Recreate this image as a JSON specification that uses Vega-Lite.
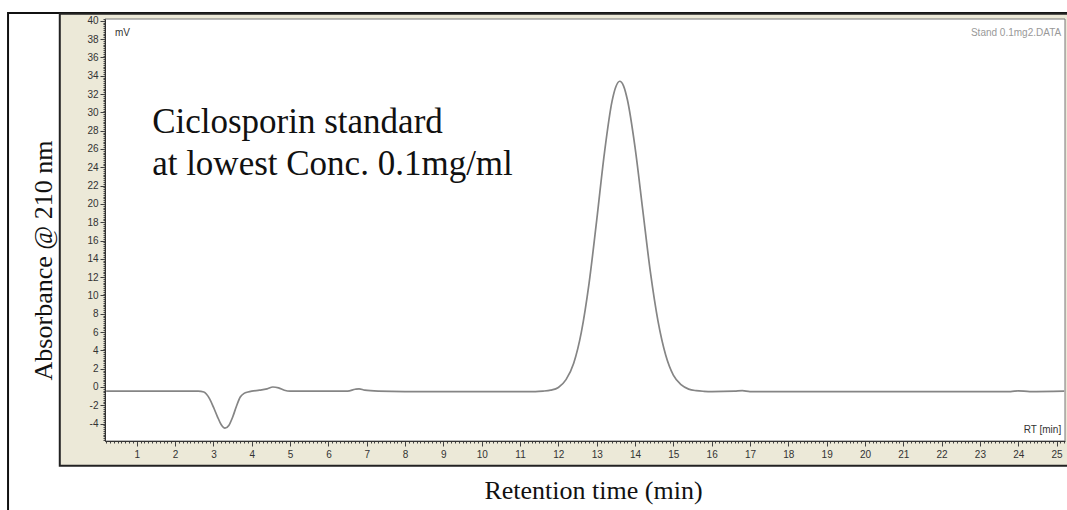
{
  "$schema": "https://vega.github.io/schema/vega-lite/v6.json",
  "width": 960,
  "height": 422,
  "autosize": {"type": "none"},
  "padding": {"left": 105, "top": 19, "right": 2, "bottom": 69},
  "background": "white",
  "config": {"view": {"stroke": null}},
  "layer": [
    {
      "data": {"values": [{}]},
      "mark": {"type": "rect", "fill": null, "stroke": "#111", "strokeWidth": 2, "clip": false},
      "encoding": {
        "x": {"datum": -2.36, "type": "quantitative", "scale": {"domain": [0.17, 25.22], "nice": false, "zero": false}},
        "x2": {"datum": 27},
        "y": {"datum": 40.86, "type": "quantitative", "scale": {"domain": [-5.9, 40.2], "nice": false, "zero": false}},
        "y2": {"datum": -20}
      }
    },
    {
      "data": {"values": [{}]},
      "mark": {"type": "rect", "fill": "#ECE9D8", "stroke": "#222", "strokeWidth": 2, "clip": false},
      "encoding": {
        "x": {"datum": -1.01, "type": "quantitative"},
        "x2": {"datum": 26},
        "y": {"datum": 40.76, "type": "quantitative"},
        "y2": {"datum": -8.6}
      }
    },
    {
      "data": {"values": [{}]},
      "mark": {"type": "rect", "fill": "white", "stroke": "#777", "strokeWidth": 1, "clip": false},
      "encoding": {
        "x": {"datum": 0.17, "type": "quantitative"},
        "x2": {"datum": 25.22},
        "y": {"datum": 40.2, "type": "quantitative"},
        "y2": {"datum": -5.9}
      }
    },
    {
      "data": {"values": [
        {"t": 0.2, "mv": -0.45}, {"t": 1.0, "mv": -0.45}, {"t": 2.0, "mv": -0.45}, {"t": 2.6, "mv": -0.45},
        {"t": 2.75, "mv": -0.55}, {"t": 2.9, "mv": -1.3}, {"t": 3.0, "mv": -2.2}, {"t": 3.1, "mv": -3.2},
        {"t": 3.2, "mv": -4.1}, {"t": 3.3, "mv": -4.5}, {"t": 3.4, "mv": -4.2}, {"t": 3.5, "mv": -3.3},
        {"t": 3.6, "mv": -2.1}, {"t": 3.7, "mv": -1.1}, {"t": 3.8, "mv": -0.7}, {"t": 3.9, "mv": -0.55},
        {"t": 4.0, "mv": -0.45}, {"t": 4.2, "mv": -0.35}, {"t": 4.4, "mv": -0.2}, {"t": 4.55, "mv": 0.0},
        {"t": 4.7, "mv": -0.1}, {"t": 4.85, "mv": -0.35}, {"t": 5.0, "mv": -0.45}, {"t": 6.0, "mv": -0.45},
        {"t": 6.5, "mv": -0.45}, {"t": 6.7, "mv": -0.25}, {"t": 6.8, "mv": -0.2}, {"t": 6.95, "mv": -0.35},
        {"t": 7.3, "mv": -0.45}, {"t": 8.0, "mv": -0.5}, {"t": 10.0, "mv": -0.5}, {"t": 11.4, "mv": -0.5},
        {"t": 11.6, "mv": -0.45}, {"t": 11.8, "mv": -0.34}, {"t": 12.0, "mv": -0.05}, {"t": 12.2, "mv": 0.8},
        {"t": 12.4, "mv": 2.6}, {"t": 12.6, "mv": 6.0}, {"t": 12.8, "mv": 11.3}, {"t": 13.0, "mv": 18.2},
        {"t": 13.2, "mv": 25.5}, {"t": 13.4, "mv": 31.2}, {"t": 13.5, "mv": 32.8}, {"t": 13.6, "mv": 33.4},
        {"t": 13.7, "mv": 32.9}, {"t": 13.8, "mv": 31.4}, {"t": 14.0, "mv": 26.2}, {"t": 14.2, "mv": 19.4},
        {"t": 14.4, "mv": 12.6}, {"t": 14.6, "mv": 7.2}, {"t": 14.8, "mv": 3.5}, {"t": 15.0, "mv": 1.3},
        {"t": 15.2, "mv": 0.25}, {"t": 15.4, "mv": -0.23}, {"t": 15.6, "mv": -0.4}, {"t": 15.8, "mv": -0.47},
        {"t": 16.0, "mv": -0.5}, {"t": 16.6, "mv": -0.45}, {"t": 16.8, "mv": -0.4}, {"t": 17.0, "mv": -0.5},
        {"t": 20.0, "mv": -0.5}, {"t": 23.8, "mv": -0.5}, {"t": 24.0, "mv": -0.42}, {"t": 24.3, "mv": -0.5},
        {"t": 25.2, "mv": -0.45}
      ]},
      "mark": {"type": "line", "color": "#858585", "strokeWidth": 1.7, "interpolate": "monotone"},
      "encoding": {
        "x": {
          "field": "t", "type": "quantitative",
          "axis": {
            "title": "Retention time (min)",
            "tickCount": 250,
            "labelExpr": "abs(datum.value - round(datum.value)) < 0.001 ? '' + round(datum.value) : ''",
            "tickSize": {"condition": {"test": "abs(datum.value - round(datum.value)) < 0.001", "value": 5}, "value": 2},
            "labelFont": "Liberation Sans", "labelFontSize": 10, "labelColor": "#333", "labelPadding": 3,
            "labelOverlap": false, "labelFlush": false, "labelAngle": 0,
            "domainColor": "#333", "tickColor": "#444", "grid": false,
            "titleFont": "Liberation Serif", "titleFontSize": 26, "titleFontWeight": "normal", "titleColor": "#111",
            "titleX": 488, "titleY": 49, "titleBaseline": "middle", "titleAlign": "center",
            "zindex": 1
          }
        },
        "y": {
          "field": "mv", "type": "quantitative",
          "axis": {
            "title": "Absorbance @ 210 nm",
            "tickCount": 200,
            "labelExpr": "abs(datum.value / 2 - round(datum.value / 2)) < 0.001 ? '' + round(datum.value) : ''",
            "tickSize": {"condition": {"test": "abs(datum.value / 2 - round(datum.value / 2)) < 0.001", "value": 5}, "value": 2},
            "labelFont": "Liberation Sans", "labelFontSize": 10, "labelColor": "#333", "labelPadding": 2,
            "labelOverlap": false, "labelFlush": false,
            "domainColor": "#333", "tickColor": "#444", "grid": false,
            "titleFont": "Liberation Serif", "titleFontSize": 26, "titleFontWeight": "normal", "titleColor": "#111",
            "titleX": -62, "titleY": 241, "titleBaseline": "middle", "titleAlign": "center", "titleAngle": 270,
            "zindex": 1
          }
        }
      }
    },
    {
      "data": {"values": [{}]},
      "mark": {"type": "text", "text": ["Ciclosporin standard", "at lowest Conc. 0.1mg/ml"], "font": "Liberation Serif", "fontSize": 35, "lineHeight": 42, "align": "left", "baseline": "alphabetic", "color": "#111"},
      "encoding": {"x": {"datum": 1.4, "type": "quantitative"}, "y": {"datum": 27.75, "type": "quantitative"}}
    },
    {
      "data": {"values": [{}]},
      "mark": {"type": "text", "text": "mV", "font": "Liberation Sans", "fontSize": 10, "align": "left", "baseline": "middle", "color": "#333"},
      "encoding": {"x": {"datum": 0.43, "type": "quantitative"}, "y": {"datum": 38.67, "type": "quantitative"}}
    },
    {
      "data": {"values": [{}]},
      "mark": {"type": "text", "text": "Stand 0.1mg2.DATA", "font": "Liberation Sans", "fontSize": 10, "align": "right", "baseline": "middle", "color": "#999"},
      "encoding": {"x": {"datum": 25.12, "type": "quantitative"}, "y": {"datum": 38.67, "type": "quantitative"}}
    },
    {
      "data": {"values": [{}]},
      "mark": {"type": "text", "text": "RT [min]", "font": "Liberation Sans", "fontSize": 10, "align": "right", "baseline": "middle", "color": "#333"},
      "encoding": {"x": {"datum": 25.12, "type": "quantitative"}, "y": {"datum": -4.7, "type": "quantitative"}}
    }
  ]
}
